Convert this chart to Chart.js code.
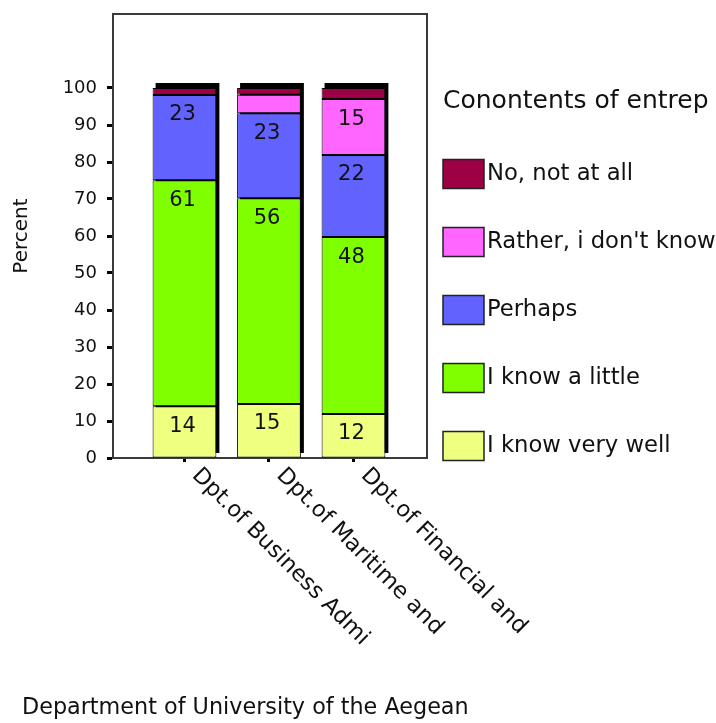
<!DOCTYPE html>
<html>
<head>
<meta charset="utf-8">
<title>Department of University of the Aegean</title>
<script src="https://cdn.jsdelivr.net/npm/chart.js@4.4.1/dist/chart.umd.min.js"></script>
<style>
  html, body { margin: 0; padding: 0; background: #fff; }
</style>
</head>
<body>
<canvas id="chart" width="716" height="723"></canvas>
<script>
// values (percent of each department)
const departments = ["Dpt.of Business Admi", "Dpt.of Maritime and", "Dpt.of Financial and"];
const knowVeryWell = [14.0, 14.6, 11.9];
const knowALittle = [61.1, 55.6, 47.8];
const perhaps = [23.0, 23.0, 22.2];
const ratherDontKnow = [0, 5.0, 15.1];
const notAtAll = [1.9, 1.8, 3.0];
const yTicks = [0, 10, 20, 30, 40, 50, 60, 70, 80, 90, 100];

const seriesLabels = ["I know very well", "I know a little", "Perhaps", "Rather, i don't know", "No, not at all"];
const seriesValues = [knowVeryWell, knowALittle, perhaps, ratherDontKnow, notAtAll];
const seriesColors = ["#efff7f", "#80ff00", "#6262ff", "#ff66ff", "#9e0046"];

const FONT = "'DejaVu Sans', sans-serif";
const TEXT = "#111";

const chartExtras = {
  id: "chartExtras",
  beforeDatasetsDraw(chart) {
    const { ctx, chartArea } = chart;
    const metas = chart.getSortedVisibleDatasetMetas();
    const base = chart.scales.y.getPixelForValue(0);

    ctx.save();
    ctx.strokeStyle = "#3a3a3a";
    ctx.lineWidth = 2;
    ctx.strokeRect(chartArea.left, chartArea.top, chartArea.right - chartArea.left, chartArea.bottom - chartArea.top);

    // black drop shadow behind every stack
    ctx.fillStyle = "#000";
    departments.forEach((_, i) => {
      let top = base;
      let left = 0;
      let width = 0;
      metas.forEach((meta) => {
        const bar = meta.data[i];
        top = Math.min(top, bar.y);
        left = bar.x - bar.width / 2;
        width = bar.width;
      });
      ctx.fillRect(left + 3, top - 5, width, base - top);
    });
    ctx.restore();
  },
  afterDatasetsDraw(chart) {
    const { ctx } = chart;
    ctx.save();
    ctx.font = `21px ${FONT}`;
    ctx.fillStyle = TEXT;
    ctx.textAlign = "center";
    ctx.textBaseline = "middle";
    chart.getSortedVisibleDatasetMetas().forEach((meta) => {
      const values = seriesValues[meta.index];
      meta.data.forEach((bar, i) => {
        if (values[i] >= 10) {
          ctx.fillText(String(Math.round(values[i])), bar.x - 2, bar.y + 20);
        }
      });
    });
    ctx.restore();
  },
  afterDraw(chart) {
    const { ctx, chartArea } = chart;
    const xScale = chart.scales.x;

    ctx.save();
    ctx.fillStyle = TEXT;

    // slanted department names
    ctx.font = `22.5px ${FONT}`;
    ctx.textAlign = "left";
    ctx.textBaseline = "middle";
    departments.forEach((name, i) => {
      ctx.save();
      ctx.translate(xScale.getPixelForValue(i) + 11, chartArea.bottom + 14);
      ctx.rotate(Math.PI / 4);
      ctx.fillText(name, 0, 0);
      ctx.restore();
    });

    // x axis title
    ctx.font = `22.3px ${FONT}`;
    ctx.textBaseline = "alphabetic";
    ctx.fillText("Department of University of the Aegean", 22, 714);

    // legend
    ctx.font = `25px ${FONT}`;
    ctx.fillText("Conontents of entrep", 443, 108);

    ctx.font = `22.7px ${FONT}`;
    ctx.textBaseline = "middle";
    ctx.lineWidth = 1.5;
    ctx.strokeStyle = "#222";
    for (let k = 0; k < seriesLabels.length; k++) {
      const idx = seriesLabels.length - 1 - k;
      const cy = 174 + k * 68;
      ctx.fillStyle = seriesColors[idx];
      ctx.fillRect(443, cy - 14.5, 41, 29);
      ctx.strokeRect(443, cy - 14.5, 41, 29);
      ctx.fillStyle = TEXT;
      ctx.fillText(seriesLabels[idx], 487, cy);
    }
    ctx.restore();
  }
};

new Chart(document.getElementById("chart"), {
  type: "bar",
  data: {
    datasets: seriesLabels.map((label, s) => ({
      label,
      data: seriesValues[s].map((v, i) => ({ x: i, y: v })),
      backgroundColor: seriesColors[s],
      borderColor: "#000",
      borderWidth: 1,
      borderSkipped: false,
      barPercentage: 0.755,
      categoryPercentage: 1
    }))
  },
  options: {
    responsive: false,
    animation: false,
    layout: { padding: { top: 14, right: 289, bottom: 0, left: 0 } },
    plugins: {
      legend: { display: false },
      tooltip: { enabled: false }
    },
    scales: {
      x: {
        type: "linear",
        stacked: true,
        offset: false,
        min: -0.846,
        max: 2.87,
        afterBuildTicks: (scale) => {
          scale.ticks = departments.map((_, i) => ({ value: i }));
        },
        afterFit: (scale) => {
          scale.height = 265;
        },
        ticks: { display: false },
        grid: {
          offset: false,
          drawOnChartArea: false,
          drawTicks: true,
          tickLength: 4,
          tickWidth: 3,
          tickColor: "#000"
        },
        border: { display: true, color: "#000", width: 2 }
      },
      y: {
        stacked: true,
        min: 0,
        max: 120,
        afterBuildTicks: (scale) => {
          scale.ticks = yTicks.map((v) => ({ value: v }));
        },
        afterFit: (scale) => {
          scale.width = 113;
          scale.paddingTop = 0;
          scale.paddingBottom = 0;
        },
        ticks: {
          autoSkip: false,
          padding: 10,
          color: TEXT,
          font: { family: FONT, size: 18 }
        },
        grid: {
          drawOnChartArea: false,
          tickLength: 6,
          tickWidth: 3,
          tickColor: "#000"
        },
        border: { display: true, color: "#000", width: 2 },
        title: {
          display: true,
          text: "Percent",
          color: TEXT,
          font: { family: FONT, size: 20 },
          padding: { top: 10, bottom: 0 }
        }
      }
    }
  },
  plugins: [chartExtras]
});
</script>
</body>
</html>
